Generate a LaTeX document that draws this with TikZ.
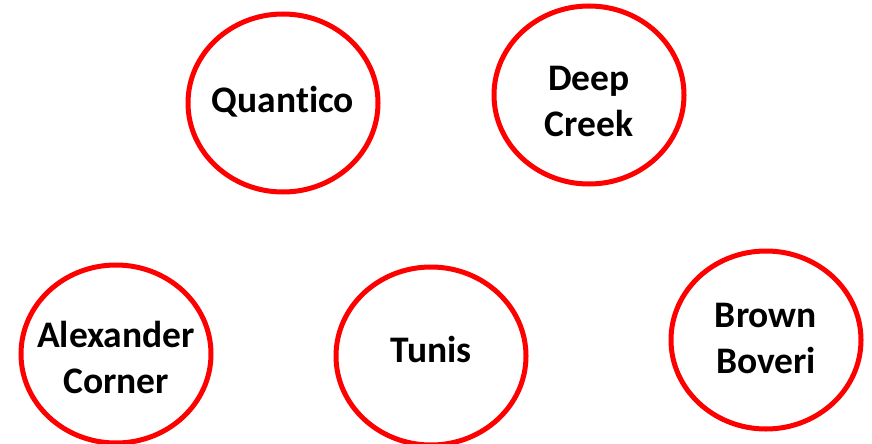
\documentclass[tikz,border=0pt]{standalone}
\usepackage{fontspec}
\setmainfont{Carlito}[RawFeature=-liga]
\usepackage{tikz}
\usetikzlibrary{shapes.geometric}

\begin{document}
\begin{tikzpicture}[x=1pt,y=-1pt,
  town/.style={ellipse, draw=red, line width=5pt, minimum width=190pt, minimum height=178pt,
    inner sep=0pt},
  townname/.style={align=center, inner sep=0pt, font=\fontsize{37.5}{46}\selectfont\bfseries}]
\useasboundingbox (0,0) rectangle (872,444);
% circles
\node[town] (q) at (283,103) {};
\node[town] (dc) at (589,95) {};
\node[town] (ac) at (116,354) {};
\node[town] (t) at (431,356) {};
\node[town] (bb) at (766,340) {};
% names
\node[townname] (qname) at (283,102) {Quantico};
\node[townname] (dcname) at (589,101) {Deep\\Creek};
\node[townname] (acname) at (116,357) {Alexander\\Corner};
\node[townname] (tname) at (431,349) {Tunis};
\node[townname] (bbname) at (766,338) {Brown\\Boveri};
\end{tikzpicture}
\end{document}
